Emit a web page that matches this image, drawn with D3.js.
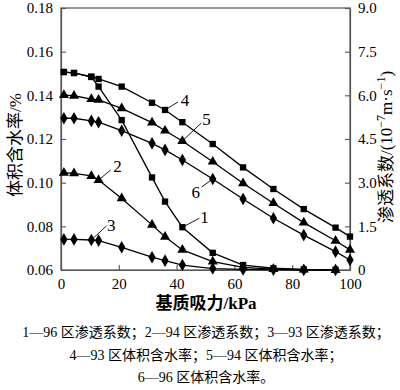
<!DOCTYPE html>
<html>
<head>
<meta charset="utf-8">
<script src="https://cdn.jsdelivr.net/npm/d3@7"></script>
<style>
  body { margin: 0; background: #fff; }
  svg text { font-family: "Liberation Serif", "Noto Sans CJK SC", serif; fill: #000; }
</style>
</head>
<body>
<div id="chart"></div>
<script>
// matric suction, kPa
const suction = [1, 4.5, 10.5, 13, 21, 31.5, 36, 42, 52.5, 63, 73.5, 84, 95, 100]

// volumetric water content (left axis)
const wc93 = [0.1507, 0.1502, 0.1486, 0.1475, 0.1440, 0.1366, 0.1333, 0.1277, 0.1177, 0.1070, 0.0971, 0.0879, 0.0794, 0.0753]
const wc94 = [0.1401, 0.1398, 0.1383, 0.1379, 0.1340, 0.1275, 0.1238, 0.1191, 0.1096, 0.0997, 0.0906, 0.0817, 0.0734, 0.0692]
const wc96 = [0.1295, 0.1295, 0.1283, 0.1277, 0.1238, 0.1180, 0.1150, 0.1104, 0.1017, 0.0925, 0.0837, 0.0760, 0.0684, 0.0646]

// permeability, 10^-7 m/s (right axis)
const k96 = [6.80, 6.77, 6.63, 6.30, 5.15, 3.18, 2.35, 1.47, 0.59, 0.17, 0.06, 0.02, 0.01]
const k94 = [3.34, 3.32, 3.23, 3.09, 2.46, 1.55, 1.14, 0.69, 0.29, 0.09, 0.03, 0.01, 0.0]
const k93 = [1.05, 1.05, 1.03, 1.01, 0.78, 0.44, 0.32, 0.17, 0.05, 0.02, 0.01, 0.0, 0.0]

const xTicks = [0, 20, 40, 60, 80, 100]
const leftTicks = [0.06, 0.08, 0.10, 0.12, 0.14, 0.16, 0.18]
const rightTicks = [0, 1.5, 3.0, 4.5, 6.0, 7.5, 9.0]

const captionLines = [
    "1—96 区渗透系数；2—94 区渗透系数；3—93 区渗透系数；",
    "4—93 区体积含水率；5—94 区体积含水率；",
    "6—96 区体积含水率。"
]

const W = 400, H = 390
const m = { left: 61, right: 50, top: 8, bottom: 120 }

const svg = d3.select('#chart').append('svg')
    .attr('width', W).attr('height', H)

const x = d3.scaleLinear().domain([0, 100]).range([m.left, W - m.right])
const yL = d3.scaleLinear().domain([0.06, 0.18]).range([H - m.bottom, m.top])
const yR = d3.scaleLinear().domain([0, 9]).range([H - m.bottom, m.top])

const series = [
    { id: '1', vals: k96, y: yR, sym: d3.symbolSquare, size: 40, label: { idx: 7, lx: 17, ly: -9, tx: 22, ty: -4 } },
    { id: '2', vals: k94, y: yR, sym: d3.symbolTriangle, size: 44, label: { idx: 3, lx: 12, ly: -10, tx: 19, ty: -8 } },
    { id: '3', vals: k93, y: yR, sym: d3.symbolDiamond, size: 46, label: { idx: 2, lx: 15, ly: -14, tx: 20, ty: -9 } },
    { id: '4', vals: wc93, y: yL, sym: d3.symbolSquare, size: 40, label: { idx: 6, lx: 13, ly: -8, tx: 20, ty: -4 } },
    { id: '5', vals: wc94, y: yL, sym: d3.symbolTriangle, size: 44, label: { idx: 7, lx: 19, ly: -18, tx: 24, ty: -16 } },
    { id: '6', vals: wc96, y: yL, sym: d3.symbolDiamond, size: 46, label: { idx: 8, lx: -11, ly: 8, tx: -17, ty: 19 } }
]

// frame
svg.append('rect')
    .attr('x', m.left).attr('y', m.top)
    .attr('width', W - m.left - m.right).attr('height', H - m.top - m.bottom)
    .attr('fill', 'none').attr('stroke', '#555').attr('stroke-width', 1.2)

// axes (ticks pointing in)
const fmt2 = d3.format('.2f'), fmt1 = d3.format('.1f')
const gx = svg.append('g').attr('transform', `translate(0,${H - m.bottom})`)
    .call(d3.axisBottom(x).tickValues(xTicks).tickSizeInner(-5).tickSizeOuter(0).tickPadding(8))
const gl = svg.append('g').attr('transform', `translate(${m.left},0)`)
    .call(d3.axisLeft(yL).tickValues(leftTicks).tickFormat(fmt2).tickSizeInner(-5).tickSizeOuter(0).tickPadding(8))
const gr = svg.append('g').attr('transform', `translate(${W - m.right},0)`)
    .call(d3.axisRight(yR).tickValues(rightTicks).tickFormat(d => d === 0 ? '0' : fmt1(d)).tickSizeInner(-5).tickSizeOuter(0).tickPadding(8))

;[gx, gl, gr].forEach(g => {
    g.select('.domain').attr('stroke', '#555').attr('stroke-width', 1.2)
    g.selectAll('.tick line').attr('stroke', '#555').attr('stroke-width', 1.1)
    g.selectAll('.tick text').attr('font-size', 15)
        .attr('font-family', '"Liberation Serif", serif')
})

// lines and markers
const plot = svg.append('g')
series.forEach(s => {
    const pts = s.vals.map((v, i) => [suction[i], v])
    const line = d3.line().x(d => x(d[0])).y(d => s.y(d[1]))
    plot.append('path').datum(pts)
        .attr('d', line).attr('fill', 'none')
        .attr('stroke', '#000').attr('stroke-width', 1.3)
    plot.selectAll(null).data(pts).enter().append('path')
        .attr('transform', d => `translate(${x(d[0])},${s.y(d[1])})`)
        .attr('d', d3.symbol().type(s.sym).size(s.size))
        .attr('fill', '#000')

    // numbered annotation with leader line
    const px = x(suction[s.label.idx]), py = s.y(s.vals[s.label.idx])
    plot.append('line')
        .attr('x1', px).attr('y1', py)
        .attr('x2', px + s.label.lx).attr('y2', py + s.label.ly)
        .attr('stroke', '#000').attr('stroke-width', 0.9)
    plot.append('text')
        .attr('x', px + s.label.tx).attr('y', py + s.label.ty)
        .attr('font-size', 17).attr('text-anchor', 'middle')
        .text(s.id)
})

// axis titles
svg.append('text')
    .attr('transform', `translate(21,145) rotate(-90)`)
    .attr('text-anchor', 'middle').attr('font-size', 17)
    .text('体积含水率/%')

const rt = svg.append('text')
    .attr('transform', `translate(392,147) rotate(-90)`)
    .attr('text-anchor', 'middle').attr('font-size', 17)
rt.append('tspan').text('渗透系数/(10')
rt.append('tspan').attr('font-size', 12).attr('dy', -7).text('−7')
rt.append('tspan').attr('dy', 7).text('m·s')
rt.append('tspan').attr('font-size', 12).attr('dy', -7).text('−1')
rt.append('tspan').attr('dy', 7).text(')')

svg.append('text')
    .attr('x', 206).attr('y', 309)
    .attr('text-anchor', 'middle').attr('font-size', 17).attr('font-weight', 'bold')
    .text('基质吸力/kPa')

// caption
svg.selectAll('.cap').data(captionLines).enter().append('text')
    .attr('class', 'cap')
    .attr('x', 206).attr('y', (d, i) => 337 + i * 22.5)
    .attr('text-anchor', 'middle').attr('font-size', 14)
    .attr('fill', '#222')
    .text(d => d)
</script>
</body>
</html>
